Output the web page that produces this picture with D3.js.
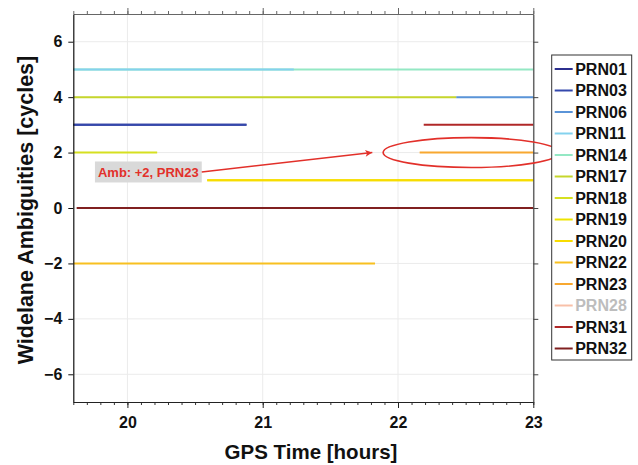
<!DOCTYPE html>
<html>
<head>
<meta charset="utf-8">
<script src="https://cdn.jsdelivr.net/npm/d3@7"></script>
<style>
  html, body { margin: 0; padding: 0; background: #fff; }
  svg { display: block; }
  text { font-family: "Liberation Sans", Arial, sans-serif; font-weight: bold; }
</style>
</head>
<body>
<svg id="chart" width="638" height="465"></svg>
<script>
// Satellites shown in the legend, in order
const prns = ["PRN01","PRN03","PRN06","PRN11","PRN14","PRN17","PRN18","PRN19","PRN20","PRN22","PRN23","PRN28","PRN31","PRN32"];
const prnColors = ["#2c2f8e","#3448ac","#5a94d8","#84d2ee","#94e8c4","#c6d62c","#d6e020","#eee400","#f8dc00","#f8c020","#f8a830","#f8c0a8","#b02828","#802020"];
// Satellites switched off in the legend (not drawn)
const hiddenPrns = ["PRN28"];
// Fixed widelane ambiguity of each arc: [prn, start hour, end hour, ambiguity]
const arcPrn   = ["PRN01","PRN03","PRN06","PRN14","PRN11","PRN17","PRN18","PRN19","PRN20","PRN22","PRN23","PRN31","PRN32"];
const arcStart = [19.6,   19.6,   22.43,  19.6,   19.6,   19.6,   19.6,   20.59,  20.59,  19.6,   22.16,  22.19,  19.625];
const arcEnd   = [20.88,  20.88,  23.0,   23.0,   21.23,  22.43,  20.22,  23.0,   23.0,   21.83,  23.0,   23.0,   23.0];
const arcAmb   = [3,      3,      4,      5,      5,      4,      2,      1,      1,      -2,     2,      3,      0];

// Axis ranges and tick labels
const xDomain = [19.6, 23];
const yDomain = [-7, 7];
const xTicks = [20, 21, 22, 23];
const yTicks = [-6, -4, -2, 0, 2, 4, 6];

// Callout: label, arrow tip and highlighted arc
const calloutText = "Amb: +2, PRN23";
const calloutLabelAt = [19.76, 1.3];   // left edge hour, centre ambiguity
const calloutTip = [21.81, 2];
const calloutRing = [22.54, 2, 0.65, 0.54]; // centre hour, centre amb, half-width hours, half-height cycles

const svg = d3.select("#chart");
const plot = { left: 73.3, right: 533.3, top: 14, bottom: 402 };

const x = d3.scaleLinear().domain(xDomain).range([plot.left, plot.right]);
const y = d3.scaleLinear().domain(yDomain).range([plot.bottom, plot.top]);
const color = d3.scaleOrdinal().domain(prns).range(prnColors);

// grid
const grid = svg.append("g").attr("stroke", "#ebebeb").attr("stroke-width", 1);
xTicks.forEach(t => grid.append("line")
  .attr("x1", x(t)).attr("x2", x(t)).attr("y1", plot.top).attr("y2", plot.bottom));
yTicks.forEach(t => grid.append("line")
  .attr("x1", plot.left).attr("x2", plot.right).attr("y1", y(t)).attr("y2", y(t)));

// arcs
const arcs = arcPrn.map((p, i) => ({ prn: p, x0: arcStart[i], x1: arcEnd[i], amb: arcAmb[i] }))
  .filter(d => !hiddenPrns.includes(d.prn));
svg.append("g").selectAll("line").data(arcs).join("line")
  .attr("x1", d => x(d.x0)).attr("x2", d => x(d.x1))
  .attr("y1", d => y(d.amb)).attr("y2", d => y(d.amb))
  .attr("stroke", d => color(d.prn))
  .attr("stroke-width", 2);

// axes (ticks pointing outward on all four sides)
const minor = d3.range(19.6, 23.0001, 0.1).map(v => +v.toFixed(1));
function styleAxis(g, stroke) {
  g.select(".domain").attr("stroke", stroke).attr("stroke-width", 1.2);
  g.selectAll(".tick line").attr("stroke", stroke);
}
// minor x ticks
svg.append("g").attr("transform", `translate(0,${plot.bottom})`)
  .call(d3.axisBottom(x).tickValues(minor).tickSize(3).tickFormat(""))
  .call(g => { g.select(".domain").remove(); g.selectAll(".tick line").attr("stroke", "#333"); });
svg.append("g").attr("transform", `translate(0,${plot.top})`)
  .call(d3.axisTop(x).tickValues(minor).tickSize(3).tickFormat(""))
  .call(g => { g.select(".domain").remove(); g.selectAll(".tick line").attr("stroke", "#666"); });

const xAxis = svg.append("g").attr("transform", `translate(0,${plot.bottom})`)
  .call(d3.axisBottom(x).tickValues(xTicks).tickSize(6).tickSizeOuter(0).tickPadding(9).tickFormat(d3.format("d")));
styleAxis(xAxis, "#222");
xAxis.selectAll("text").attr("font-size", 16).attr("fill", "#111")
  .attr("font-family", "Liberation Sans, Arial, sans-serif").attr("font-weight", "bold");

const xTop = svg.append("g").attr("transform", `translate(0,${plot.top})`)
  .call(d3.axisTop(x).tickValues(xTicks).tickSize(6).tickSizeOuter(0).tickFormat(""));
styleAxis(xTop, "#666");

const yAxis = svg.append("g").attr("transform", `translate(${plot.left},0)`)
  .call(d3.axisLeft(y).tickValues(yTicks).tickSize(5).tickSizeOuter(0).tickPadding(6).tickFormat(d3.format("d")));
styleAxis(yAxis, "#111");
yAxis.selectAll("text").attr("font-size", 16).attr("fill", "#111")
  .attr("font-family", "Liberation Sans, Arial, sans-serif").attr("font-weight", "bold");

const yRight = svg.append("g").attr("transform", `translate(${plot.right},0)`)
  .call(d3.axisRight(y).tickValues(yTicks).tickSize(5).tickSizeOuter(0).tickFormat(""));
styleAxis(yRight, "#444");

// axis titles
svg.append("text")
  .attr("x", 311).attr("y", 459)
  .attr("text-anchor", "middle").attr("font-size", 20.5).attr("fill", "#111")
  .text("GPS Time [hours]");
svg.append("text")
  .attr("transform", `translate(33,210) rotate(-90)`)
  .attr("text-anchor", "middle").attr("font-size", 21.5).attr("fill", "#111")
  .text("Widelane Ambiguities [cycles]");

// callout
const red = "#e2302a";
svg.append("defs").append("marker")
  .attr("id", "head").attr("viewBox", "0 0 10 10").attr("refX", 10).attr("refY", 5)
  .attr("markerWidth", 11).attr("markerHeight", 7).attr("markerUnits", "userSpaceOnUse")
  .attr("orient", "auto")
  .append("path").attr("d", "M0,0 L10,5 L0,10 L2.5,5 Z").attr("fill", red);

const labelX = x(calloutLabelAt[0]), labelY = y(calloutLabelAt[1]);
const label = svg.append("g");
const labelText = label.append("text")
  .attr("x", labelX + 3).attr("y", labelY).attr("dy", "0.35em")
  .attr("font-size", 13).attr("fill", red).text(calloutText);
const bb = labelText.node().getBBox();
label.insert("rect", "text")
  .attr("x", bb.x - 3).attr("y", labelY - 10.5).attr("width", bb.width + 6).attr("height", 21)
  .attr("fill", "#d9d9d9");
svg.append("line")
  .attr("x1", bb.x + bb.width + 3).attr("y1", labelY)
  .attr("x2", x(calloutTip[0])).attr("y2", y(calloutTip[1]))
  .attr("stroke", red).attr("stroke-width", 1.6).attr("marker-end", "url(#head)");
svg.append("ellipse")
  .attr("cx", x(calloutRing[0])).attr("cy", y(calloutRing[1]))
  .attr("rx", x(calloutRing[0] + calloutRing[2]) - x(calloutRing[0]))
  .attr("ry", y(calloutRing[1]) - y(calloutRing[1] + calloutRing[3]))
  .attr("fill", "none").attr("stroke", red).attr("stroke-width", 1.6);

// legend
const lg = { left: 551.7, top: 55, width: 80, height: 305, firstRow: 14, rowStep: 21.5 };
const legend = svg.append("g");
legend.append("rect")
  .attr("x", lg.left).attr("y", lg.top).attr("width", lg.width).attr("height", lg.height)
  .attr("fill", "#fff").attr("stroke", "#333").attr("stroke-width", 1);
const rows = legend.selectAll("g.row").data(prns).join("g")
  .attr("class", "row")
  .attr("transform", (d, i) => `translate(${lg.left},${lg.top + lg.firstRow + i * lg.rowStep})`);
rows.append("line").attr("x1", 3).attr("x2", 21).attr("y1", 0).attr("y2", 0)
  .attr("stroke", d => color(d)).attr("stroke-width", 2);
rows.append("text").attr("x", 23.5).attr("dy", "0.36em").attr("font-size", 16)
  .attr("fill", d => hiddenPrns.includes(d) ? "#bdbdbd" : "#111")
  .text(d => d);
</script>
</body>
</html>
